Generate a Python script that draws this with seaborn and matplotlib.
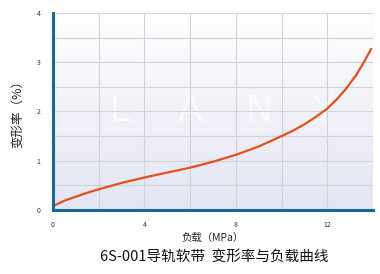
import numpy as np
import pandas as pd
import matplotlib
matplotlib.use("Agg")
import matplotlib.pyplot as plt
import seaborn as sns
from matplotlib.colors import LinearSegmentedColormap

# Data
load_mpa = [0.1, 0.5, 1, 1.5, 2, 3, 4, 5, 6, 7, 8, 9, 10, 10.5, 11, 11.5, 12, 12.4, 12.8, 13.25, 13.6, 13.92]
deform_pct = [0.10, 0.19, 0.27, 0.35, 0.42, 0.55, 0.66, 0.76, 0.86, 0.98, 1.12, 1.29, 1.50, 1.61, 1.74, 1.89, 2.06, 2.24, 2.45, 2.73, 3.00, 3.27]
x_ticks = [0, 2, 4, 6, 8, 10, 12, 14]
x_tick_labels = ["0", "", "4", "", "8", "", "12", ""]
y_ticks = [0, 0.5, 1, 1.5, 2, 2.5, 3, 3.5, 4]
y_tick_labels = ["0", "", "1", "", "2", "", "3", "", "4"]
x_label = "负载（MPa）"
y_label = "变形率（%）"
title = "6S-001导轨软带  变形率与负载曲线"
watermark_letters = ["L", "A", "N", "Y"]
watermark_x = [2.9, 6.0, 9.0, 11.8]

sns.set_theme(style="white")
plt.rcParams['font.family'] = ['Noto Sans CJK SC', 'DejaVu Sans']

df = pd.DataFrame({"load": load_mpa, "deform": deform_pct})

fig = plt.figure(figsize=(3.8, 2.74), dpi=100)
ax = fig.add_axes([0.1395, 0.2336, 0.8421, 0.719])

# gradient background
grad = np.linspace(0, 1, 256).reshape(-1, 1)
cmap = LinearSegmentedColormap.from_list("bg", ["#ffffff", "#e3e5f3"])
ax.imshow(grad, extent=[0, 14, 0, 4], aspect="auto", cmap=cmap, origin="upper", zorder=0)

for letter, lx in zip(watermark_letters, watermark_x):
    ax.text(lx, 2.0, letter, ha="center", va="center", fontsize=26, color="white",
            alpha=0.7, zorder=1, family="DejaVu Sans")

sns.lineplot(data=df, x="load", y="deform", ax=ax, color="#e84e18", linewidth=1.6, zorder=3)

ax.set_xlim(0, 14)
ax.set_ylim(0, 4)
ax.set_xticks(x_ticks)
ax.set_xticklabels(x_tick_labels)
ax.set_yticks(y_ticks)
ax.set_yticklabels(y_tick_labels)
ax.grid(True, color="#d2d2d8", linewidth=0.8)
ax.set_axisbelow(False)
for gl in ax.get_xgridlines() + ax.get_ygridlines():
    gl.set_zorder(1.5)

for s in ["top", "right"]:
    ax.spines[s].set_visible(False)
for s in ["left", "bottom"]:
    ax.spines[s].set_color("#16679c")
    ax.spines[s].set_linewidth(2.2)
    ax.spines[s].set_zorder(4)

ax.tick_params(axis="both", which="both", length=4, width=0.8, color="#cccccc",
               labelsize=5, labelcolor="#333333", pad=5)
ax.tick_params(axis="x", pad=4)
ax.set_xlabel(x_label, fontsize=7.5, color="#222222")
ax.set_ylabel(y_label, fontsize=9, color="#222222")
ax.xaxis.set_label_coords(0.5, -0.14)
ax.yaxis.set_label_coords(-0.111, 0.5)
ax.xaxis.label.set_va("center")
ax.yaxis.label.set_va("center")

fig.text(0.565, 0.062, title, ha="center", va="center", fontsize=10.5, color="#111111")

fig.savefig("out.png", dpi=100)
